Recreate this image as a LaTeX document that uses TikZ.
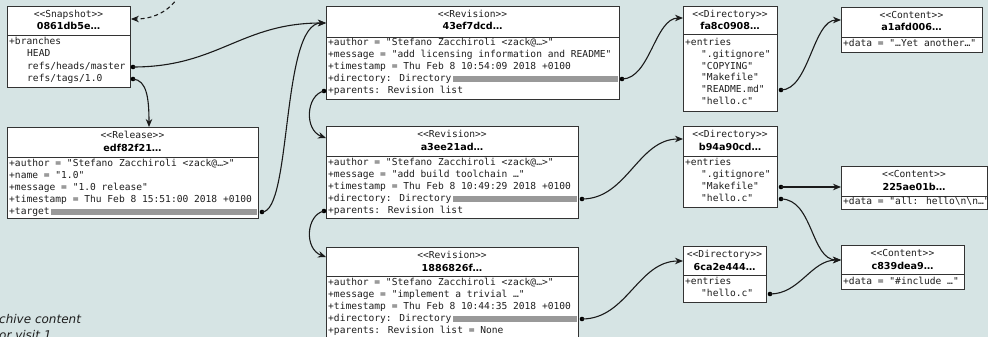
\documentclass[tikz,border=0pt]{standalone}
\usepackage{fontspec}
\usetikzlibrary{arrows.meta,calc}
\newfontfamily\monof[Ligatures=TeXOff]{DejaVu Sans Mono}
\newfontfamily\sansf[Ligatures=TeXOff]{DejaVu Sans}
\definecolor{bgc}{HTML}{D6E4E4}
\definecolor{linec}{HTML}{333333}
\definecolor{textc}{HTML}{1E1E1E}
\definecolor{barc}{HTML}{999999}
\definecolor{connc}{HTML}{1A1A1A}
\tikzset{
  classbox/.style={draw=linec, fill=white, line width=0.9pt, inner sep=0pt},
  sepline/.style={draw=linec, line width=0.9pt},
  stereo/.style={font=\monof\fontsize{9.6}{12}\selectfont, text=textc, inner sep=0pt, text height=7pt, text depth=2pt},
  titl/.style={font=\sansf\bfseries\fontsize{9.6}{12}\selectfont, text=black, inner sep=0pt, text height=7pt, text depth=2pt},
  rowtxt/.style={font=\monof\fontsize{9.6}{12}\selectfont, text=textc, inner sep=0pt, text height=7pt, text depth=2pt, anchor=west},
  barfill/.style={fill=barc},
  dotn/.style={circle, fill=black, inner sep=0pt, minimum size=4.6pt},
  conn/.style={draw=connc, line width=1.1pt, -{Stealth[length=8pt,width=6.5pt]}},
  dconn/.style={conn, dash pattern=on 4pt off 3pt},
  notetxt/.style={font=\sansf\itshape\fontsize{12}{15}\selectfont, text=textc, inner sep=0pt, anchor=west},
}
% #1 name, #2 x1, #3 y1, #4 x2, #5 y separator, #6 y2, #7 stereotype, #8 title
\newcommand{\classbox}[8]{%
  \node[classbox, anchor=north west, minimum width={#4-#2}, minimum height={#6-#3}] (#1) at (#2,#3) {};
  \draw[sepline] (#2,#5) -- (#4,#5);
  \node[stereo] (#1-s) at ({(#2+#4)/2},{#3+9}) {#7};
  \node[titl] (#1-t) at ({(#2+#4)/2},{#3+21.5}) {#8};
}
\newcommand{\rowt}[4]{\node[rowtxt] (#1) at (#2,#3) {#4};}
% #1 text node, #2 box node
\newcommand{\rowbar}[2]{\fill[barfill] ($(#1.east)+(1,-3)$) rectangle ($(#1.east -| #2.east)+(-2,3)$);}
\begin{document}
\begin{tikzpicture}[x=1pt, y=-1pt]
\useasboundingbox (0,0) rectangle (988,337);
\clip (0,0) rectangle (988,337);
\fill[bgc] (0,0) rectangle (988,337);

% ---------- Snapshot ----------
\classbox{snap}{7}{6}{130}{35}{87}{<<Snapshot>>}{0861db5e…}
\rowt{snapR1}{9}{42}{+branches}
\rowt{snapR2}{27}{54.5}{HEAD}
\rowt{snapR3}{27}{67}{refs/heads/master}
\rowt{snapR4}{27}{79}{refs/tags/1.0}

% ---------- Release ----------
\classbox{rel}{7}{127}{258}{157}{218}{<<Release>>}{edf82f21…}
\rowt{relR1}{9}{164}{+author = "Stefano Zacchiroli <zack@…>"}
\rowt{relR2}{9}{176}{+name = "1.0"}
\rowt{relR3}{9}{188}{+message = "1.0 release"}
\rowt{relR4}{9}{200}{+timestamp = Thu Feb 8 15:51:00 2018 +0100}
\rowt{relR5}{9}{212}{+target}
\rowbar{relR5}{rel}

% ---------- Revision 1 ----------
\classbox{revA}{326}{6}{619}{37}{99}{<<Revision>>}{43ef7dcd…}
\rowt{revAR1}{328}{43}{+author = "Stefano Zacchiroli <zack@…>"}
\rowt{revAR2}{328}{55}{+message = "add licensing information and README"}
\rowt{revAR3}{328}{67}{+timestamp = Thu Feb 8 10:54:09 2018 +0100}
\rowt{revAR4}{328}{79}{+directory: Directory}
\rowt{revAR5}{328}{91}{+parents: Revision list}
\rowbar{revAR4}{revA}

% ---------- Revision 2 ----------
\classbox{revB}{326}{126}{578}{156}{218}{<<Revision>>}{a3ee21ad…}
\rowt{revBR1}{328}{163}{+author = "Stefano Zacchiroli <zack@…>"}
\rowt{revBR2}{328}{175}{+message = "add build toolchain …"}
\rowt{revBR3}{328}{187}{+timestamp = Thu Feb 8 10:49:29 2018 +0100}
\rowt{revBR4}{328}{199}{+directory: Directory}
\rowt{revBR5}{328}{211}{+parents: Revision list}
\rowbar{revBR4}{revB}

% ---------- Revision 3 ----------
\classbox{revC}{326}{247}{578}{276}{340}{<<Revision>>}{1886826f…}
\rowt{revCR1}{328}{283}{+author = "Stefano Zacchiroli <zack@…>"}
\rowt{revCR2}{328}{295}{+message = "implement a trivial …"}
\rowt{revCR3}{328}{307}{+timestamp = Thu Feb 8 10:44:35 2018 +0100}
\rowt{revCR4}{328}{319}{+directory: Directory}
\rowt{revCR5}{328}{331}{+parents: Revision list = None}
\rowbar{revCR4}{revC}

% ---------- Directory 1 ----------
\classbox{dirA}{683}{6}{777}{34}{111}{<<Directory>>}{fa8c0908…}
\rowt{dirAR1}{685}{43}{+entries}
\rowt{dirAR2}{701}{54.8}{".gitignore"}
\rowt{dirAR3}{701}{66.6}{"COPYING"}
\rowt{dirAR4}{701}{78.4}{"Makefile"}
\rowt{dirAR5}{701}{90.2}{"README.md"}
\rowt{dirAR6}{701}{102}{"hello.c"}

% ---------- Directory 2 ----------
\classbox{dirB}{683}{126}{777}{156}{207}{<<Directory>>}{b94a90cd…}
\rowt{dirBR1}{685}{163}{+entries}
\rowt{dirBR2}{701}{175}{".gitignore"}
\rowt{dirBR3}{701}{187}{"Makefile"}
\rowt{dirBR4}{701}{199}{"hello.c"}

% ---------- Directory 3 ----------
\classbox{dirC}{683}{246}{766}{275}{302}{<<Directory>>}{6ca2e444…}
\rowt{dirCR1}{685}{282}{+entries}
\rowt{dirCR2}{701}{294}{"hello.c"}

% ---------- Contents ----------
\classbox{cntA}{841}{7}{982}{37}{52}{<<Content>>}{a1afd006…}
\rowt{cntAR1}{843}{44}{+data = "…Yet another…"}
\classbox{cntB}{841}{166}{987}{196}{209}{<<Content>>}{225ae01b…}
\rowt{cntBR1}{843}{202}{+data = "all: hello\textbackslash n\textbackslash n…"}
\classbox{cntC}{841}{245}{964}{274}{289}{<<Content>>}{c839dea9…}
\rowt{cntCR1}{843}{282}{+data = "\#include …"}

% ---------- dots ----------
\node[dotn] (dSnapMaster) at (133,67) {};
\node[dotn] (dSnapTags) at (133,79) {};
\node[dotn] (dRelTarget) at (262,212) {};
\node[dotn] (dRevADir) at (622,79) {};
\node[dotn] (dRevAPar) at (324,91) {};
\node[dotn] (dRevBDir) at (582,199) {};
\node[dotn] (dRevBPar) at (324,211) {};
\node[dotn] (dRevCDir) at (582,319) {};
\node[dotn] (dDirARead) at (781,90) {};
\node[dotn] (dDirBMake) at (781,187) {};
\node[dotn] (dDirBHello) at (781,199) {};
\node[dotn] (dDirCHello) at (770,294) {};
\coordinate (dashStart) at (182,-10);

% ---------- connectors ----------
\draw[dconn] (dashStart) .. controls +(-6,14) and +(30,0) .. ($(snap.north east)+(0,13)$);
\draw[conn] (dSnapMaster.center) .. controls +(85,0) and +(-85,0) .. ($(revA.north west)+(0,17)$);
\draw[conn] (dRelTarget.center) .. controls +(30,0) and +(-45,0) .. ($(revA.north west)+(0,17)$);
\draw[conn] (dSnapTags.center) .. controls +(14,1) and +(0,-28) .. ($(rel.north west)+(142,0)$);
\draw[conn] (dRevAPar.center) .. controls +(-18,4) and +(-22,-8) .. ($(revA.north west)+(0,132)$);
\draw[conn] (dRevBPar.center) .. controls +(-18,4) and +(-22,-8) .. ($(revC.north west)+(0,10)$);
\draw[conn] (dRevADir.center) .. controls +(28,0) and +(-28,0) .. ($(dirA.north west)+(0,12)$);
\draw[conn] (dRevBDir.center) .. controls +(45,0) and +(-45,0) .. ($(dirB.north west)+(0,13)$);
\draw[conn] (dRevCDir.center) .. controls +(45,0) and +(-45,0) .. ($(dirC.north west)+(0,15)$);
\draw[conn] (dDirARead.center) .. controls +(28,0) and +(-28,0) .. ($(cntA.north west)+(0,13)$);
\draw[conn] (dDirBMake.center) -- (cntB.west |- dDirBMake);
\draw[conn] (dDirBHello.center) .. controls +(32,0) and +(-30,0) .. ($(cntC.north west)+(0,15)$);
\draw[conn] (dDirCHello.center) .. controls +(30,0) and +(-30,0) .. ($(cntC.north west)+(0,15)$);

% ---------- note ----------
\node[notetxt] (note1) at (-1,319) {chive content};
\node[notetxt] (note2) at (-1,335) {or visit 1};
\end{tikzpicture}
\end{document}
